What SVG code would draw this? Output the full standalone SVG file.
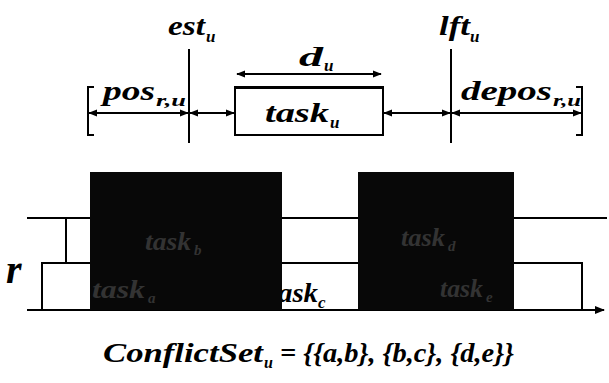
<svg xmlns="http://www.w3.org/2000/svg" width="609" height="383" viewBox="0 0 609 383">
<style>
.t{font-family:"Liberation Serif","Times New Roman",serif;font-style:italic;font-weight:bold;fill:#000}
.ln{stroke:#000;stroke-width:2;fill:none}
.dim{stroke:#000;stroke-width:1.8;fill:none}
.blk{fill:#080808}
.ht{font-family:"Liberation Serif","Times New Roman",serif;font-style:italic;font-weight:bold;fill:#333}
</style>
<defs>
<marker id="ah" viewBox="0 0 10 10" refX="9" refY="5" markerWidth="5" markerHeight="5" orient="auto-start-reverse" markerUnits="strokeWidth">
<path d="M0,1 L10,5 L0,9 Z" fill="#000"/>
</marker>
</defs>
<g id="connectors">
<line class="ln" x1="189" y1="49" x2="189" y2="143"/>
<line class="ln" x1="451" y1="49" x2="451" y2="143"/>
<line class="dim" x1="237" y1="74" x2="381" y2="74" marker-start="url(#ah)" marker-end="url(#ah)"/>
<path class="ln" d="M94,87 L88,87 L88,135 L94,135"/>
<path class="ln" d="M576,87 L582,87 L582,135 L576,135"/>
<line class="dim" x1="89" y1="113" x2="188" y2="113" marker-start="url(#ah)" marker-end="url(#ah)"/>
<line class="dim" x1="190" y1="113" x2="234" y2="113" marker-start="url(#ah)" marker-end="url(#ah)"/>
<line class="dim" x1="384" y1="113" x2="450" y2="113" marker-start="url(#ah)" marker-end="url(#ah)"/>
<line class="dim" x1="452" y1="113" x2="581" y2="113" marker-start="url(#ah)" marker-end="url(#ah)"/>
<line class="ln" x1="27" y1="218" x2="607" y2="218"/>
<line class="ln" x1="66" y1="218" x2="66" y2="263"/>
<path class="ln" d="M42,310 L42,263 L582,263 L582,310"/>
<line class="ln" x1="27" y1="310" x2="604" y2="310" marker-end="url(#ah)"/>
</g>
<g id="task_u">
<rect x="235" y="87" width="148" height="48" fill="#fff" stroke="#000" stroke-width="2"/>
<line x1="235" y1="87.5" x2="383" y2="87.5" stroke="#000" stroke-width="3"/>
<text class="t" x="265" y="122" font-size="27" textLength="64" lengthAdjust="spacingAndGlyphs">task</text>
<text class="t" x="330" y="128" font-size="17">u</text>
</g>
<g id="labels">
<text class="t" x="168" y="35" font-size="27" textLength="37" lengthAdjust="spacingAndGlyphs">est</text>
<text class="t" x="206" y="42" font-size="17">u</text>
<text class="t" x="439" y="35" font-size="27" textLength="31" lengthAdjust="spacingAndGlyphs">lft</text>
<text class="t" x="470" y="42" font-size="17">u</text>
<text class="t" x="299" y="66" font-size="28" textLength="24" lengthAdjust="spacingAndGlyphs">d</text>
<text class="t" x="324" y="71" font-size="17">u</text>
<text class="t" x="103" y="100" font-size="28" textLength="52" lengthAdjust="spacingAndGlyphs">pos</text>
<text class="t" x="156" y="106" font-size="17" textLength="30" lengthAdjust="spacingAndGlyphs">r,u</text>
<text class="t" x="461" y="100" font-size="28" textLength="91" lengthAdjust="spacingAndGlyphs">depos</text>
<text class="t" x="553" y="106" font-size="17" textLength="28" lengthAdjust="spacingAndGlyphs">r,u</text>
<text class="t" x="6" y="283" font-size="40">r</text>
</g>
<g id="task_c">
<text class="t" x="270" y="302" font-size="27" textLength="48" lengthAdjust="spacingAndGlyphs">task</text>
<text class="t" x="318" y="308" font-size="17">c</text>
</g>
<g id="block_ab">
<rect class="blk" x="90" y="172" width="192" height="138"/>
<text class="ht" x="145" y="250" font-size="26" textLength="46" lengthAdjust="spacingAndGlyphs">task</text>
<text class="ht" x="194" y="255" font-size="15">b</text>
<text class="ht" x="92" y="298" font-size="26" textLength="53" lengthAdjust="spacingAndGlyphs">task</text>
<text class="ht" x="148" y="303" font-size="15">a</text>
</g>
<g id="block_de">
<rect class="blk" x="358" y="172" width="156" height="138"/>
<text class="ht" x="401" y="246" font-size="26" textLength="44" lengthAdjust="spacingAndGlyphs">task</text>
<text class="ht" x="448" y="251" font-size="15">d</text>
<text class="ht" x="440" y="297" font-size="26" textLength="43" lengthAdjust="spacingAndGlyphs">task</text>
<text class="ht" x="486" y="302" font-size="15">e</text>
</g>
<g id="conflict">
<text class="t" x="103" y="362" font-size="27" textLength="160" lengthAdjust="spacingAndGlyphs">ConflictSet</text>
<text class="t" x="264" y="368" font-size="16">u</text>
<text class="t" x="280" y="362" font-size="27" textLength="234" lengthAdjust="spacingAndGlyphs">= {{a,b}, {b,c}, {d,e}}</text>
</g>
</svg>
